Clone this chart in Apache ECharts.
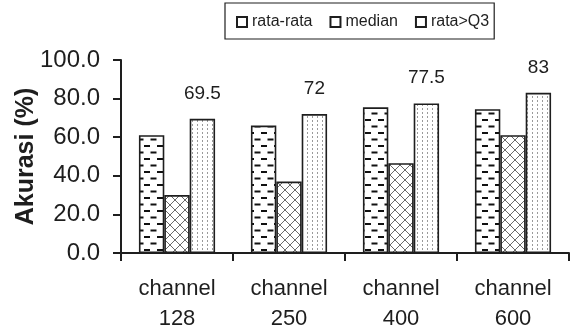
<!DOCTYPE html>
<html>
<head>
<meta charset="utf-8">
<script src="https://cdn.jsdelivr.net/npm/echarts@6/dist/echarts.min.js"></script>
<style>
  html, body { margin: 0; padding: 0; background: #fff; }
  #chart { width: 574px; height: 331px; }
</style>
</head>
<body>
<div id="chart"></div>
<script>
// Accuracy per channel configuration
const categories = ['channel\n128', 'channel\n250', 'channel\n400', 'channel\n600'];
const rataRata = [61, 66, 75.5, 74.5];
const median = [30, 37, 46.5, 61];
const rataQ3 = [69.5, 72, 77.5, 83];
const yTicks = [0, 20, 40, 60, 80, 100];

const FONT = "'Liberation Sans', Arial, sans-serif";
const INK = '#1e1e1e';

// Fill patterns drawn on small tiles
function tile(w, h, draw) {
  const c = document.createElement('canvas');
  c.width = w; c.height = h;
  const ctx = c.getContext('2d');
  ctx.fillStyle = '#fff';
  ctx.fillRect(0, 0, w, h);
  draw(ctx);
  return { image: c, repeat: 'repeat' };
}

// short horizontal dashes in a staggered layout
const dashFill = tile(13, 13, ctx => {
  ctx.fillStyle = '#111';
  ctx.fillRect(1, 2, 6, 2);
  ctx.fillRect(7.5, 8.5, 6, 2);
  ctx.fillRect(-5.5, 8.5, 6, 2);
});

// diagonal lattice
const weaveFill = tile(10, 10, ctx => {
  ctx.strokeStyle = '#6a6a6a';
  ctx.lineWidth = 1;
  ctx.beginPath();
  ctx.moveTo(0, 5); ctx.lineTo(5, 0);
  ctx.moveTo(5, 10); ctx.lineTo(10, 5);
  ctx.moveTo(0, 5); ctx.lineTo(5, 10);
  ctx.moveTo(5, 0); ctx.lineTo(10, 5);
  ctx.stroke();
});

// fine vertical dotted lines
const dotFill = tile(5, 4, ctx => {
  ctx.fillStyle = '#9a9a9a';
  ctx.fillRect(2, 0, 1, 2);
});

const barBorder = { borderColor: INK, borderWidth: 1.6 };

const chart = echarts.init(document.getElementById('chart'), null, { renderer: 'canvas' });

chart.setOption({
  backgroundColor: '#ffffff',
  animation: false,
  textStyle: { fontFamily: FONT, color: INK },
  legend: {
    left: 225,
    top: 3,
    padding: [11, 5, 9, 11],
    itemGap: 17,
    itemWidth: 10,
    itemHeight: 10,
    icon: 'rect',
    borderColor: INK,
    borderWidth: 1.2,
    textStyle: { fontFamily: FONT, fontSize: 16, color: INK },
    data: [
      { name: 'rata-rata', itemStyle: { color: '#fff', borderColor: INK, borderWidth: 2 } },
      { name: 'median', itemStyle: { color: '#fff', borderColor: INK, borderWidth: 2 } },
      { name: 'rata>Q3', itemStyle: { color: '#fff', borderColor: INK, borderWidth: 2 } }
    ]
  },
  grid: { left: 121, right: 5, top: 60, bottom: 78, containLabel: false, outerBoundsMode: 'none' },
  xAxis: {
    type: 'category',
    data: categories,
    boundaryGap: true,
    axisLine: { lineStyle: { color: INK, width: 2 } },
    axisTick: { show: true, length: 8, alignWithLabel: false, lineStyle: { color: INK, width: 2 } },
    axisLabel: {
      margin: 21,
      fontFamily: FONT,
      fontSize: 22,
      lineHeight: 30,
      color: INK,
      interval: 0
    }
  },
  yAxis: {
    type: 'value',
    min: yTicks[0],
    max: yTicks[yTicks.length - 1],
    interval: 20,
    name: 'Akurasi (%)',
    nameLocation: 'middle',
    nameGap: 82,
    nameMoveOverlap: false,
    nameTextStyle: { fontFamily: FONT, fontSize: 25, fontWeight: 'bold', color: INK },
    axisLine: { show: true, lineStyle: { color: INK, width: 2 } },
    axisTick: { show: true, length: 8, lineStyle: { color: INK, width: 2 } },
    splitLine: { show: false },
    axisLabel: {
      margin: 21,
      fontFamily: FONT,
      fontSize: 24,
      color: INK,
      formatter: v => v.toFixed(1)
    }
  },
  series: [
    {
      name: 'rata-rata',
      type: 'bar',
      data: rataRata,
      barGap: '0%',
      barCategoryGap: '32%',
      itemStyle: Object.assign({ color: dashFill }, barBorder)
    },
    {
      name: 'median',
      type: 'bar',
      data: median,
      barGap: '0%',
      barCategoryGap: '32%',
      itemStyle: Object.assign({ color: weaveFill }, barBorder)
    },
    {
      name: 'rata>Q3',
      type: 'bar',
      data: rataQ3,
      barGap: '0%',
      barCategoryGap: '32%',
      itemStyle: Object.assign({ color: dotFill }, barBorder),
      label: {
        show: true,
        position: 'top',
        distance: 16,
        fontFamily: FONT,
        fontSize: 19,
        color: INK,
        formatter: p => String(p.value)
      }
    }
  ]
});
</script>
</body>
</html>
